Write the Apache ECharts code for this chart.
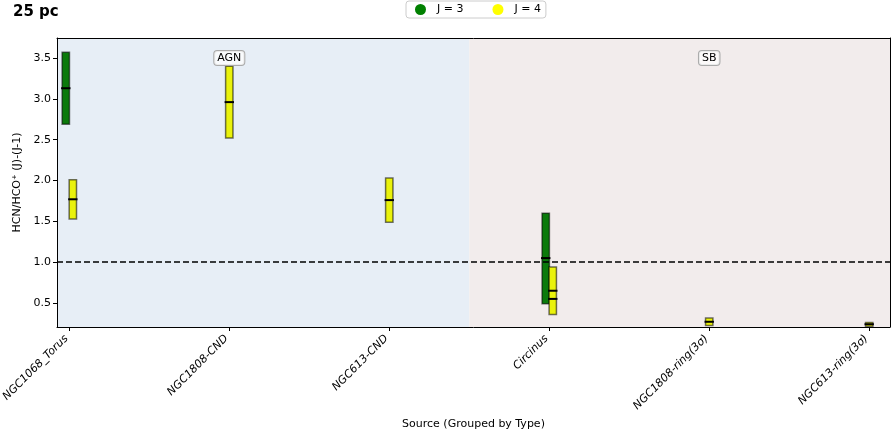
<!DOCTYPE html>
<html>
<head>
<meta charset="utf-8">
<script src="https://cdn.jsdelivr.net/npm/echarts@6/dist/echarts.min.js"></script>
<style>
  html, body { margin: 0; padding: 0; background: #fff; }
  #chart { width: 891px; height: 432px; }
</style>
</head>
<body>
<div id="chart"></div>
<script>
// Sources, ordered AGN first then starburst
const categories = ['NGC1068_Torus', 'NGC1808-CND', 'NGC613-CND', 'Circinus', 'NGC1808-ring(3σ)', 'NGC613-ring(3σ)'];
const groups = ['AGN', 'SB'];

// HCN/HCO+ (3-2): range and median per source
const j3Low  = [2.69, null, null, 0.49, null, null];
const j3High = [3.57, null, null, 1.60, null, null];
const j3Mid  = [3.13, null, null, 1.05, null, null];

// HCN/HCO+ (4-3): range and median per source, plus mean where it differs
const j4Low  = [1.53, 2.52, 1.49, 0.36, 0.225, 0.215];
const j4High = [2.01, 3.40, 2.03, 0.94, 0.315, 0.262];
const j4Mid  = [1.77, 2.96, 1.76, 0.65, 0.27, 0.24];
const j4Mean = [null, null, null, 0.55, null, null];

const yTicks = [0.5, 1.0, 1.5, 2.0, 2.5, 3.0, 3.5];
const unity = 1.0;

const X_MIN = -0.077, X_MAX = 5.13;
const Y_MIN = 0.206, Y_MAX = 3.745;
const SPLIT = 2.5;
const BAR_W = 0.046;
const GREEN = '#0b7a0b';
const YELLOW = '#eaf20c';
const FONT = 'DejaVu Sans';

function buildData(low, high, mid, extra, other, side) {
  const out = [];
  for (let i = 0; i < categories.length; i++) {
    if (low[i] == null) continue;
    const both = other[i] != null;
    const offset = both ? side * 0.022 : 0;
    out.push([i + offset, low[i], high[i], mid[i], extra ? (extra[i] == null ? NaN : extra[i]) : NaN]);
  }
  return out;
}

function renderBox(color) {
  return function (params, api) {
    const x = api.value(0);
    const lo = api.coord([x, api.value(1)]);
    const hi = api.coord([x, api.value(2)]);
    const md = api.coord([x, api.value(3)]);
    const w = api.size([BAR_W, 0])[0];
    const children = [{
      type: 'rect',
      shape: { x: lo[0] - w / 2, y: hi[1], width: w, height: lo[1] - hi[1] },
      style: { fill: color, stroke: 'rgba(0,0,0,0.55)', lineWidth: 1.5 }
    }, {
      type: 'line',
      shape: { x1: md[0] - w / 2 - 1, y1: md[1], x2: md[0] + w / 2 + 1, y2: md[1] },
      style: { stroke: '#000', lineWidth: 2 }
    }];
    const ex = api.value(4);
    if (!isNaN(ex)) {
      const e = api.coord([x, ex]);
      children.push({
        type: 'line',
        shape: { x1: e[0] - w / 2 - 1, y1: e[1], x2: e[0] + w / 2 + 1, y2: e[1] },
        style: { stroke: '#000', lineWidth: 2 }
      });
    }
    return { type: 'group', children: children };
  };
}

const chart = echarts.init(document.getElementById('chart'), null, { renderer: 'canvas' });

const groupLabel = {
  show: true, position: 'inside', fontFamily: FONT, fontSize: 11, color: '#000',
  backgroundColor: 'rgba(255,255,255,0.75)', borderColor: '#aaa', borderWidth: 1,
  borderRadius: 3, padding: [2, 3, 1, 3]
};

chart.setOption({
  animation: false,
  textStyle: { fontFamily: FONT },
  title: {
    text: '25 pc', left: 8, top: 0,
    textStyle: { fontFamily: FONT, fontSize: 15, fontWeight: 'bold', color: '#000' }
  },
  legend: {
    left: 406, top: 1,
    data: ['J = 3', 'J = 4'],
    icon: 'circle', itemWidth: 11, itemHeight: 11, itemGap: 29,
    padding: [3, 5, 3, 9],
    borderColor: '#ccc', borderWidth: 1, borderRadius: 3,
    textStyle: { fontFamily: FONT, fontSize: 11, color: '#000', padding: [0, 0, 0, 6] }
  },
  grid: { left: 57, right: 1, top: 38, bottom: 105, containLabel: false, outerBoundsMode: 'none' },
  xAxis: [{
    type: 'value', min: X_MIN, max: X_MAX,
    splitLine: { show: false },
    axisLine: { show: true, onZero: false, lineStyle: { color: '#000', width: 1 } },
    axisTick: { show: true, length: 4, customValues: categories.map((c, i) => i), lineStyle: { color: '#000' } },
    axisLabel: {
      customValues: categories.map((c, i) => i),
      formatter: v => categories[Math.round(v)],
      rotate: 45, fontStyle: 'italic', fontFamily: FONT, fontSize: 11, color: '#000',
      margin: 7, padding: [0, 4, 0, 0]
    },
    name: 'Source (Grouped by Type)', nameLocation: 'middle', nameGap: 86,
    nameTextStyle: { fontFamily: FONT, fontSize: 11, color: '#000' },
    z: 10
  }, {
    type: 'value', position: 'top', min: X_MIN, max: X_MAX,
    axisLine: { show: true, onZero: false, lineStyle: { color: '#000', width: 1 } },
    axisTick: { show: false }, axisLabel: { show: false }, splitLine: { show: false },
    z: 10
  }],
  yAxis: [{
    type: 'value', min: Y_MIN, max: Y_MAX,
    splitLine: { show: false },
    axisLine: { show: true, onZero: false, lineStyle: { color: '#000', width: 1 } },
    axisTick: { show: true, length: 4, customValues: yTicks, lineStyle: { color: '#000' } },
    axisLabel: {
      customValues: yTicks, formatter: v => v.toFixed(1),
      fontFamily: FONT, fontSize: 11, color: '#000', margin: 6
    },
    name: 'HCN/HCO⁺ (J)-(J-1)', nameLocation: 'middle', nameGap: 29,
    nameTextStyle: { fontFamily: FONT, fontSize: 11, color: '#000' },
    z: 10
  }, {
    type: 'value', position: 'right', min: Y_MIN, max: Y_MAX,
    axisLine: { show: true, onZero: false, lineStyle: { color: '#000', width: 1 } },
    axisTick: { show: false }, axisLabel: { show: false }, splitLine: { show: false },
    z: 10
  }],
  series: [{
    name: 'regions',
    type: 'custom',
    renderItem: () => null,
    data: [],
    silent: true,
    z: 0,
    markArea: {
      silent: true,
      label: { show: false },
      data: [
        [{ xAxis: X_MIN, yAxis: Y_MIN, itemStyle: { color: '#e7eef6' } }, { xAxis: SPLIT, yAxis: Y_MAX }],
        [{ xAxis: SPLIT, yAxis: Y_MIN, itemStyle: { color: '#f2ecec' } }, { xAxis: X_MAX, yAxis: Y_MAX }]
      ]
    },
    markLine: {
      silent: true, symbol: 'none', label: { show: false },
      lineStyle: { color: '#000', width: 1.5, type: [6, 3] },
      data: [[{ xAxis: X_MIN, yAxis: unity }, { xAxis: X_MAX, yAxis: unity }]]
    }
  }, {
    name: 'J = 3',
    type: 'custom',
    itemStyle: { color: 'green' },
    renderItem: renderBox(GREEN),
    encode: { x: 0, y: [1, 2] },
    data: buildData(j3Low, j3High, j3Mid, null, j4Low, -1),
    clip: true,
    z: 3
  }, {
    name: 'J = 4',
    type: 'custom',
    itemStyle: { color: 'yellow' },
    renderItem: renderBox(YELLOW),
    encode: { x: 0, y: [1, 2] },
    data: buildData(j4Low, j4High, j4Mid, j4Mean, j3Low, 1),
    clip: true,
    z: 3,
    markPoint: {
      silent: true, symbol: 'rect', symbolSize: 0,
      label: groupLabel,
      data: [
        { coord: [1, 3.5], value: groups[0], label: { formatter: groups[0] } },
        { coord: [4, 3.5], value: groups[1], label: { formatter: groups[1] } }
      ],
      z: 5
    }
  }]
});
</script>
</body>
</html>
